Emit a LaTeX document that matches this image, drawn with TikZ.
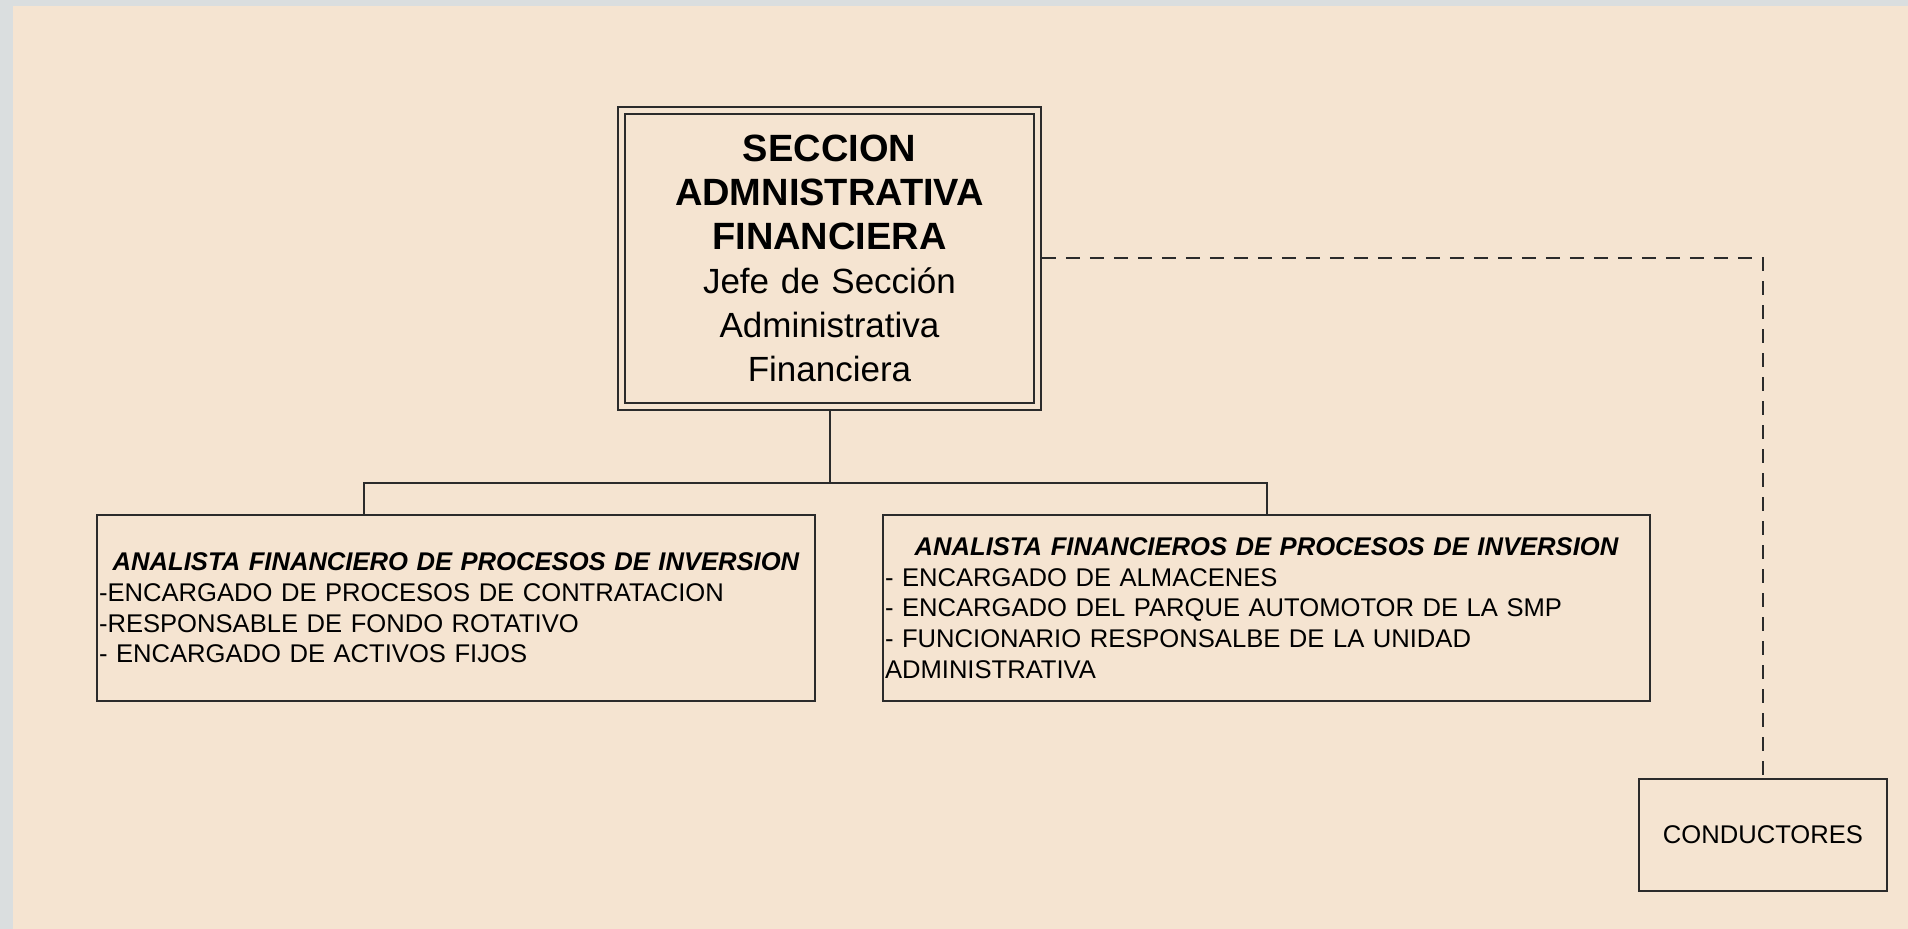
\documentclass[tikz,border=0pt]{standalone}
\usepackage{fontspec}
\setmainfont{Liberation Sans}
\usepackage{xcolor}
\usetikzlibrary{positioning, calc}
\definecolor{fondo}{HTML}{F5E4D1}
\definecolor{marco}{HTML}{DADEDF}
\definecolor{trazo}{HTML}{2B2B2B}
\tikzset{
  jefatura/.style={draw=trazo, line width=0.9pt, double=fondo, double distance=2.6pt, outer sep=2.2pt, align=center, text width=200pt, minimum width=208pt, minimum height=148pt, inner sep=0pt, font=\fontsize{17.5}{22}\selectfont},
  caja/.style={draw=trazo, line width=1pt, align=left, minimum height=93pt, inner xsep=1pt, inner ysep=0pt, font=\fontsize{12.8}{15.3}\selectfont},
  menor/.style={caja, align=center, text width=118pt, minimum width=124pt, minimum height=56pt},
  conector/.style={draw=trazo, line width=1pt},
  enlace/.style={conector, dash pattern=on 7pt off 5pt}
}

\begin{document}
\begin{tikzpicture}[x=0.5pt, y=-0.5pt]
    \fill[marco] (0,0) rectangle (1908,929);
    \fill[fondo] (13,6) rectangle (1908,929);
    \useasboundingbox (0,0) rectangle (1908,929);

    \node[jefatura] (jefe) at (829.5,258.5) {{\fontsize{19}{22}\selectfont\bfseries SECCION}\\{\fontsize{19}{22}\selectfont\bfseries ADMNISTRATIVA}\\{\fontsize{19}{22}\selectfont\bfseries FINANCIERA}\\Jefe de Sección\\Administrativa\\Financiera};
    \node[caja, text width=357pt] (izq) at (456,608) {\makebox[357pt]{\bfseries\itshape ANALISTA FINANCIERO DE PROCESOS DE INVERSION}\\-ENCARGADO DE PROCESOS DE CONTRATACION\\-RESPONSABLE DE FONDO ROTATIVO\\- ENCARGADO DE ACTIVOS FIJOS};
    \node[caja, text width=381.5pt] (der) at (1266.5,608) {\makebox[381.5pt]{\bfseries\itshape ANALISTA FINANCIEROS DE PROCESOS DE INVERSION}\\- ENCARGADO DE ALMACENES\\- ENCARGADO DEL PARQUE AUTOMOTOR DE LA SMP\\- FUNCIONARIO RESPONSALBE DE LA UNIDAD\\ADMINISTRATIVA};
    \node[menor] (cond) at (1763,835) {CONDUCTORES};

    \coordinate (cruce) at (829.5,483);
    \draw[conector] (jefe.south) -- (cruce);
    \draw[conector] (cruce) -| (der.north);
    \draw[conector] (cruce) -| ([xshift=134pt]izq.north west);
    \draw[enlace] (jefe.east) -| (cond.north);
\end{tikzpicture}
\end{document}
